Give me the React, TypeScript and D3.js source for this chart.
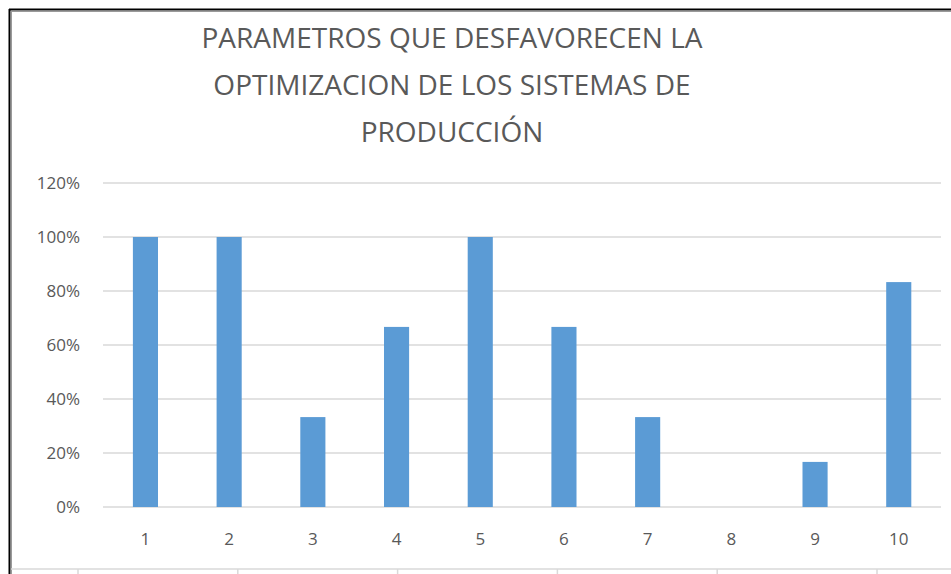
import * as d3 from "d3";

const categories = ["1", "2", "3", "4", "5", "6", "7", "8", "9", "10"];
const values = [1, 1, 0.333, 0.667, 1, 0.667, 0.333, 0, 0.167, 0.833];
const yTicks = [0, 0.2, 0.4, 0.6, 0.8, 1, 1.2];
const titleLines = [
  "PARAMETROS QUE DESFAVORECEN LA",
  "OPTIMIZACION DE LOS SISTEMAS DE",
  "PRODUCCIÓN",
];

const W = 951;
const H = 574;
const font = "'Open Sans', 'DejaVu Sans', sans-serif";
const textColor = "#595959";

export default function App() {
  const x = d3
    .scaleBand<string>()
    .domain(categories)
    .range([103.6, 940.6])
    .paddingInner(0.7)
    .paddingOuter(0.35);
  const y = d3.scaleLinear().domain([0, 1.2]).range([507, 183]);
  const fmt = d3.format(".0%");

  // tick marks of the page's outer frame along the bottom
  const frameTicks = d3.range(6).map((i) => 78 + i * 159.8);

  return (
    <svg
      width={W}
      height={H}
      style={{ position: "absolute", left: 0, top: 0, background: "#fff" }}
    >
      {/* frame */}
      <line x1={9} y1={9.5} x2={W} y2={9.5} stroke="#000" strokeWidth={2} />
      <line x1={9.5} y1={9} x2={9.5} y2={H} stroke="#000" strokeWidth={2} />
      <line x1={11} y1={11.5} x2={W} y2={11.5} stroke="#9a9a9a" strokeWidth={1} />
      <line x1={11.5} y1={11} x2={11.5} y2={H} stroke="#9a9a9a" strokeWidth={1} />
      <line x1={11} y1={569} x2={W} y2={569} stroke="#d9d9d9" strokeWidth={1.5} />
      {frameTicks.map((fx, i) => (
        <line key={i} x1={fx} y1={569} x2={fx} y2={H} stroke="#d9d9d9" strokeWidth={1.5} />
      ))}

      {/* title */}
      {titleLines.map((t, i) => (
        <text
          key={i}
          x={452}
          y={48 + i * 47}
          textAnchor="middle"
          fontFamily={font}
          fontSize={28}
          fill={textColor}
        >
          {t}
        </text>
      ))}

      {/* gridlines + y labels */}
      {yTicks.map((t) => (
        <g key={t}>
          <line
            x1={103}
            x2={941}
            y1={y(t)}
            y2={y(t)}
            stroke="#d9d9d9"
            strokeWidth={1.3}
          />
          <text
            x={80}
            y={y(t)}
            dy="0.35em"
            textAnchor="end"
            fontFamily={font}
            fontSize={17}
            fill={textColor}
          >
            {fmt(t)}
          </text>
        </g>
      ))}

      {/* bars */}
      {categories.map((c, i) => (
        <rect
          key={c}
          x={x(c)}
          y={y(values[i])}
          width={x.bandwidth()}
          height={y(0) - y(values[i])}
          fill="#5B9BD5"
        />
      ))}

      {/* x labels */}
      {categories.map((c) => (
        <text
          key={c}
          x={(x(c) ?? 0) + x.bandwidth() / 2}
          y={545}
          textAnchor="middle"
          fontFamily={font}
          fontSize={17}
          fill={textColor}
        >
          {c}
        </text>
      ))}
    </svg>
  );
}
